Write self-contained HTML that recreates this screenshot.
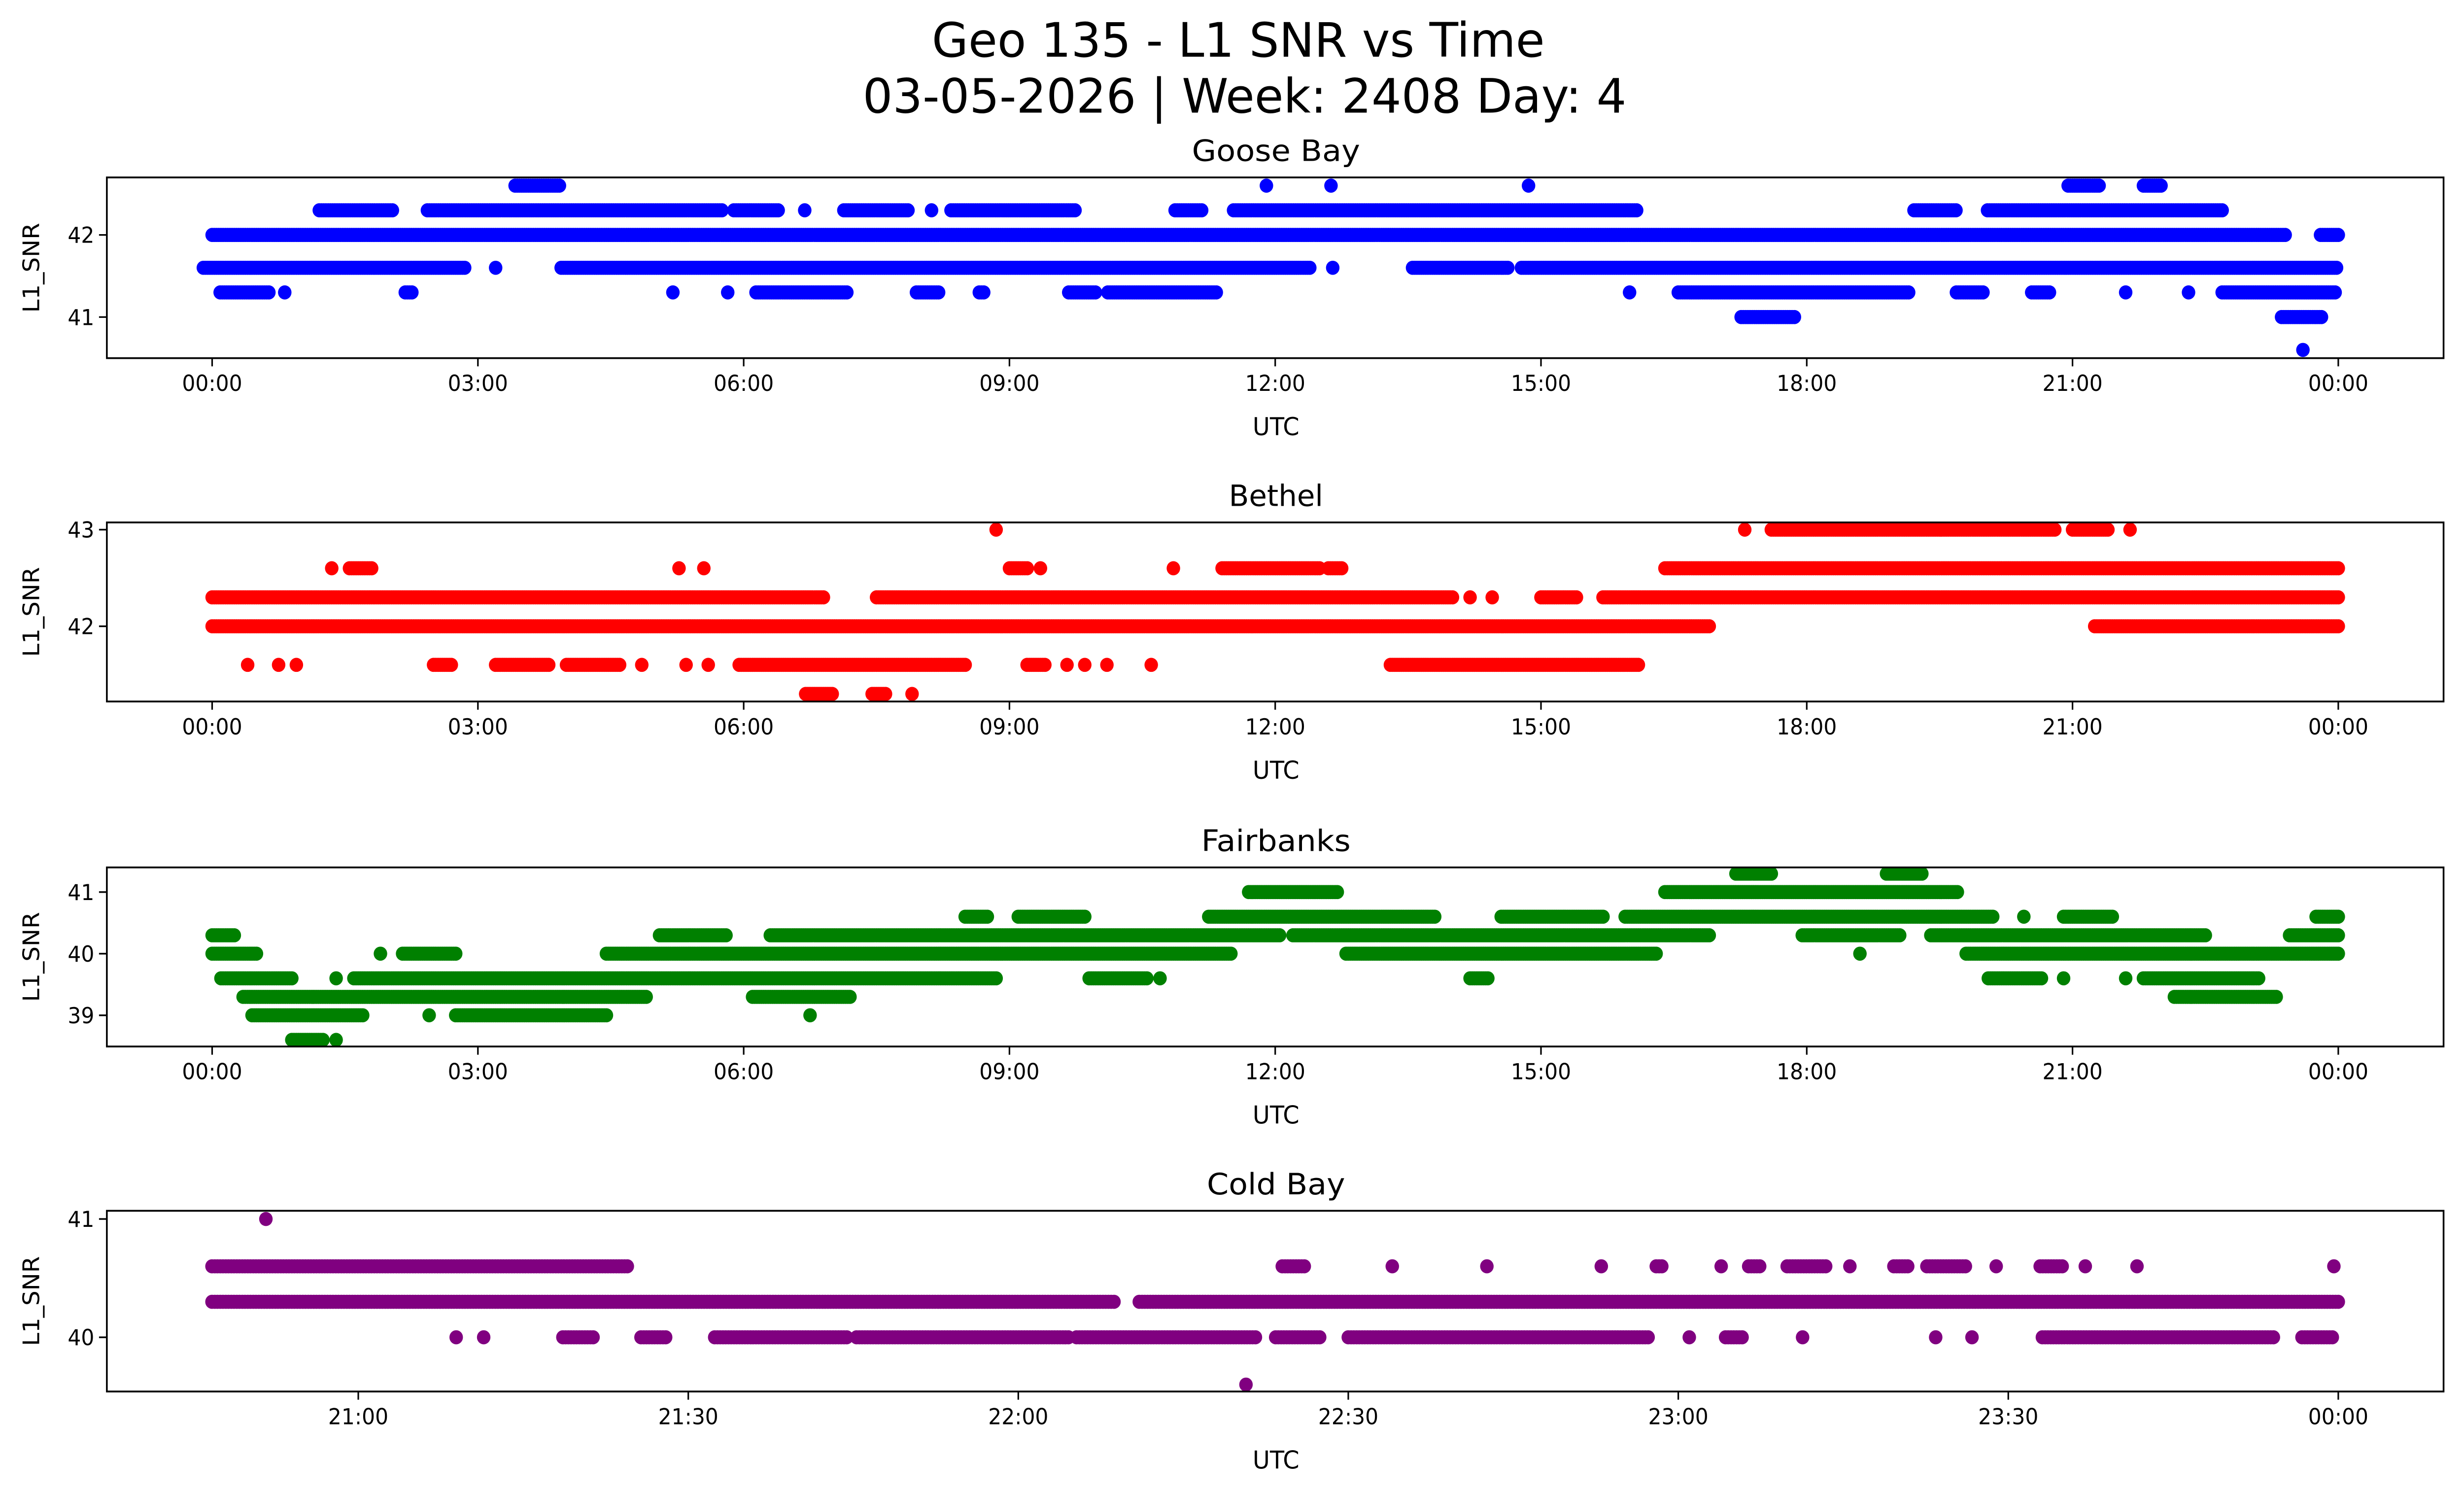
<!DOCTYPE html>
<html><head><meta charset="utf-8"><style>html,body{margin:0;padding:0;background:#fff;overflow:hidden;width:100vw;height:100vh}svg{display:block;width:100vw;height:100vh}text{font-family:"DejaVu Sans","Liberation Sans",sans-serif;fill:#000}</style></head>
<body>
<svg id="fig" viewBox="0 0 1568 910" preserveAspectRatio="none" xmlns="http://www.w3.org/2000/svg">
<rect width="1568" height="910" fill="#fff"/>
<text x="788" y="34.5" font-size="29" text-anchor="middle" textLength="390" lengthAdjust="spacingAndGlyphs">Geo 135 - L1 SNR vs Time</text>
<text x="792" y="68.5" font-size="29" text-anchor="middle" textLength="486" lengthAdjust="spacingAndGlyphs">03-05-2026 | Week: 2408 Day: 4</text>
<g id="plots"></g>
</svg>
<script>
// Goose Bay: levels and runs [startHour,endHour] per level
const gooseLevels = [42.0, 41.6, 42.3, 42.6, 41.3, 41.0, 40.6];
const gooseRuns = [
 [[0,23.4],[23.8,24]],
 [[-0.1,2.85],[3.2,3.2],[3.94,12.4],[12.65,12.65],[13.55,14.63],[14.78,24]],
 [[1.21,2.04],[2.43,5.76],[5.89,6.39],[6.69,6.69],[7.13,7.86],[8.12,8.12],[8.34,9.76],[10.87,11.17],[11.53,16.09],[19.21,19.69],[20.04,22.7]],
 [[3.42,3.94],[11.9,11.9],[12.63,12.63],[14.86,14.86],[20.95,21.32],[21.8,22.0]],
 [[0.09,0.66],[0.82,0.82],[2.18,2.27],[5.2,5.2],[5.82,5.82],[6.14,7.18],[7.95,8.21],[8.66,8.73],[9.67,9.99],[10.11,11.35],[16.0,16.0],[16.55,19.16],[19.69,19.99],[20.54,20.75],[21.6,21.6],[22.31,22.31],[22.69,23.98]],
 [[17.26,17.86],[23.36,23.82]],
 [[23.6,23.6]]
];
// Bethel
const bethelLevels = [42.0, 42.3, 42.6, 43.0, 41.6, 41.3];
const bethelRuns = [
 [[0,16.9],[21.25,24]],
 [[0,6.9],[7.5,14.0],[14.2,14.2],[14.45,14.45],[15.0,15.4],[15.7,24]],
 [[1.35,1.35],[1.55,1.8],[5.27,5.27],[5.55,5.55],[9.0,9.2],[9.35,9.35],[10.85,10.85],[11.4,12.5],[12.6,12.75],[16.4,24]],
 [[8.85,8.85],[17.3,17.3],[17.6,20.8],[21.0,21.4],[21.65,21.65]],
 [[0.4,0.4],[0.75,0.75],[0.95,0.95],[2.5,2.7],[3.2,3.8],[4.0,4.6],[4.85,4.85],[5.35,5.35],[5.6,5.6],[5.95,8.5],[9.2,9.4],[9.65,9.65],[9.85,9.85],[10.1,10.1],[10.6,10.6],[13.3,16.1]],
 [[6.7,7.0],[7.45,7.6],[7.9,7.9]]
];
// Fairbanks
const fairLevels = [41.3, 41.0, 40.6, 40.3, 40.0, 39.6, 39.3, 39.0, 38.6];
const fairRuns = [
 [[17.2,17.6],[18.9,19.3]],
 [[11.7,12.7],[16.4,19.7]],
 [[8.5,8.75],[9.1,9.85],[11.25,13.8],[14.55,15.7],[15.95,20.1],[20.45,20.45],[20.9,21.45],[23.75,24]],
 [[0,0.25],[5.05,5.8],[6.3,12.05],[12.2,16.9],[17.95,19.05],[19.4,22.5],[23.45,24]],
 [[0,0.5],[1.9,1.9],[2.15,2.75],[4.45,11.5],[12.8,16.3],[18.6,18.6],[19.8,24]],
 [[0.1,0.9],[1.4,1.4],[1.6,8.85],[9.9,10.55],[10.7,10.7],[14.2,14.4],[20.05,20.65],[20.9,20.9],[21.6,21.6],[21.8,23.1]],
 [[0.35,4.9],[6.1,7.2],[22.15,23.3]],
 [[0.45,1.7],[2.45,2.45],[2.75,4.45],[6.75,6.75]],
 [[0.9,1.25],[1.4,1.4]]
];
// Cold Bay: runs in minutes since 20:00
const coldLevels = [40.6, 41.0, 40.3, 40.0, 39.6];
const coldRuns = [
 [[46.7,84.6],[144,146],[154,154],[162.6,162.6],[173,173],[178,178.6],[183.9,183.9],[186.4,187.4],[189.9,193.4],[195.6,195.6],[199.6,201],[202.6,206.3],[208.9,208.9],[212.9,215],[217,217],[221.7,221.7],[239.6,239.6]],
 [[51.6,51.6]],
 [[46.7,128.9],[131,240]],
 [[68.9,68.9],[71.4,71.4],[78.6,81.4],[85.7,88.1],[92.4,104.6],[105.3,124.6],[125.3,141.7],[143.4,147.4],[150,177.4],[181,181],[184.3,186],[191.3,191.3],[203.4,203.4],[206.7,206.7],[213.1,234.3],[236.7,239.6]],
 [[140.7,140.7]]
];
const hourTicks = [0,3,6,9,12,15,18,21,24];
const hourTickLabels = ["00:00","03:00","06:00","09:00","12:00","15:00","18:00","21:00","00:00"];
const coldTicks = [60,90,120,150,180,210,240];
const coldTickLabels = ["21:00","21:30","22:00","22:30","23:00","23:30","00:00"];

const NS="http://www.w3.org/2000/svg";
const root=document.getElementById('plots');
function el(tag,attrs,parent){const e=document.createElementNS(NS,tag);for(const k in attrs)e.setAttribute(k,attrs[k]);(parent||root).appendChild(e);return e;}

const panels=[
 {key:'goose-bay',title:'Goose Bay',tLen:107,top:108,bot:218,levels:gooseLevels,runs:gooseRuns,color:'#0000ff',yTicks:[41,42],yRef:[42,143,41,193],x0:0,x1:24,step:0.025,ticks:hourTicks,labels:hourTickLabels},
 {key:'bethel',title:'Bethel',tLen:60,top:318,bot:427,levels:bethelLevels,runs:bethelRuns,color:'#ff0000',yTicks:[42,43],yRef:[43,322.4,42,381.2],x0:0,x1:24,step:0.025,ticks:hourTicks,labels:hourTickLabels},
 {key:'fairbanks',title:'Fairbanks',tLen:95,top:528,bot:637,levels:fairLevels,runs:fairRuns,color:'#008000',yTicks:[39,40,41],yRef:[41,543,39,618],x0:0,x1:24,step:0.025,ticks:hourTicks,labels:hourTickLabels},
 {key:'cold-bay',title:'Cold Bay',tLen:88,top:737,bot:847,levels:coldLevels,runs:coldRuns,color:'#800080',yTicks:[40,41],yRef:[41,742,40,814],x0:60,x1:240,step:0.25,ticks:coldTicks,labels:coldTickLabels}
];
const L=68,R=1555;
panels.forEach((p)=>{
 const g=el('g',{});
 
 
 const xpx0 = p.key==='cold-bay'?228:135, xpx1=1488;
 const xs=v=>xpx0+(v-p.x0)*(xpx1-xpx0)/(p.x1-p.x0);
 const ys=v=>p.yRef[1]+(v-p.yRef[0])*(p.yRef[3]-p.yRef[1])/(p.yRef[2]-p.yRef[0]);
 const dots=el('g',{fill:p.color},g);
 
 
 p.levels.forEach((lv,i)=>{
  p.runs[i].forEach(r=>{
   for(let t=r[0];t<=r[1]+1e-9;t+=p.step){
    el('circle',{cx:xs(t).toFixed(1),cy:ys(lv).toFixed(1),r:4.3},dots);
   }
  });
 });
 const frame=el('rect',{x:L,y:p.top,width:R-L,height:p.bot-p.top,fill:'none',stroke:'#000','stroke-width':1.1},g);
 
 
 p.ticks.forEach((t,i)=>{
  const x=xs(t);
  el('line',{x1:x,x2:x,y1:p.bot,y2:p.bot+5,stroke:'#000','stroke-width':1},g);
  const tl=el('text',{x:x,y:p.bot+20,'font-size':13.3,'text-anchor':'middle'},g);
  tl.textContent=p.labels[i];
  
  
 });
 p.yTicks.forEach(v=>{
  const y=ys(v);
  el('line',{x1:L-5,x2:L,y1:y,y2:y,stroke:'#000','stroke-width':1},g);
  const tl=el('text',{x:L-8,y:y+4.8,'font-size':13.3,'text-anchor':'end'},g);
  tl.textContent=String(v);
  
  
 });
 const tt=el('text',{x:812,y:p.top-10,'font-size':18,'text-anchor':'middle',textLength:p.tLen,lengthAdjust:'spacingAndGlyphs'},g);
 tt.textContent=p.title;
 
 
 const xl=el('text',{x:812,y:p.bot+47,'font-size':15,'text-anchor':'middle'},g);
 xl.textContent='UTC';
 
 
 const cy=(p.top+p.bot)/2;
 const yl=el('text',{x:25,y:cy,'font-size':14.5,'text-anchor':'middle',transform:`rotate(-90 25 ${cy})`},g);
 yl.textContent='L1_SNR';
 
 
});
</script>
</body></html>
